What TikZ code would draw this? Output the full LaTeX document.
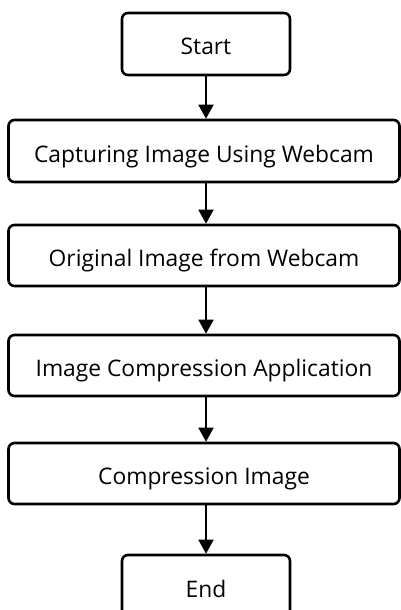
\documentclass[tikz,border=0pt]{standalone}
\usepackage{fontspec}
\setmainfont{Open Sans}
\usetikzlibrary{arrows.meta}
\begin{document}
\begin{tikzpicture}[x=1pt,y=1pt,
  box/.style={draw=black, line width=2.6pt, rounded corners=6pt, fill=white,
    inner sep=0pt, text height=24pt, text depth=2pt,
    font=\fontsize{22.8}{26}\selectfont},
  flow/.style={line width=1.8pt, -{Triangle[width=15pt,length=14pt]}}]
\useasboundingbox (0,0) rectangle (401,-610);
\node[box, minimum width=168pt, minimum height=62pt] (start) at (206,-44) {Start};
\node[box, minimum width=391pt, minimum height=62pt] (b1) at (204,-151) {Capturing Image Using Webcam};
\node[box, minimum width=391pt, minimum height=61pt] (b2) at (204,-255.5) {Original Image from Webcam};
\node[box, minimum width=391pt, minimum height=61pt] (b3) at (204,-365.5) {Image Compression Application};
\node[box, minimum width=391pt, minimum height=61pt] (b4) at (204,-473.5) {Compression Image};
\node[box, minimum width=168pt, minimum height=62pt] (end) at (206,-586) {End};
\draw[flow] (start.south) -- (start.south |- b1.north);
\draw[flow] (start.south |- b1.south) -- (start.south |- b2.north);
\draw[flow] (start.south |- b2.south) -- (start.south |- b3.north);
\draw[flow] (start.south |- b3.south) -- (start.south |- b4.north);
\draw[flow] (start.south |- b4.south) -- (end.north);
\end{tikzpicture}
\end{document}
